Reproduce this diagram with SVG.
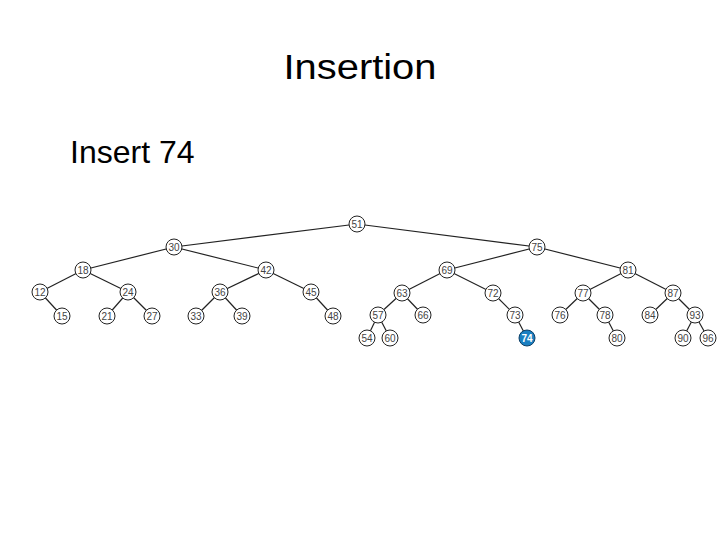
<svg xmlns="http://www.w3.org/2000/svg" width="720" height="540" viewBox="0 0 720 540">
<style>
.n circle{fill:#fff;stroke:#222;stroke-width:1}
.n text{font-family:"Liberation Sans",Arial,sans-serif;font-size:10px;fill:#444;text-anchor:middle;dominant-baseline:central}
#n74 circle{fill:#1a7fc1;stroke:#0d3f66}
#n74 text{fill:#fff;font-weight:bold}
.e line{stroke:#222;stroke-width:1.2}
.t{font-family:"Liberation Sans",Arial,sans-serif;fill:#000}
</style>
<rect width="720" height="540" fill="#fff"/>
<text class="t" x="360" y="79" font-size="35" text-anchor="middle" textLength="153" lengthAdjust="spacingAndGlyphs">Insertion</text>
<text class="t" x="70" y="163" font-size="32">Insert 74</text>
<g class="e" id="edges">
<line x1="357" y1="224" x2="174" y2="247"/>
<line x1="357" y1="224" x2="537" y2="247"/>
<line x1="174" y1="247" x2="83" y2="270"/>
<line x1="174" y1="247" x2="266" y2="270"/>
<line x1="83" y1="270" x2="40" y2="292"/>
<line x1="83" y1="270" x2="128" y2="292"/>
<line x1="266" y1="270" x2="220" y2="292"/>
<line x1="266" y1="270" x2="311" y2="292"/>
<line x1="40" y1="292" x2="62" y2="316"/>
<line x1="128" y1="292" x2="107" y2="316"/>
<line x1="128" y1="292" x2="152" y2="316"/>
<line x1="220" y1="292" x2="196" y2="316"/>
<line x1="220" y1="292" x2="242" y2="316"/>
<line x1="311" y1="292" x2="333" y2="316"/>
<line x1="537" y1="247" x2="447" y2="270"/>
<line x1="537" y1="247" x2="628" y2="270"/>
<line x1="447" y1="270" x2="402" y2="293"/>
<line x1="447" y1="270" x2="493" y2="293"/>
<line x1="628" y1="270" x2="583" y2="293"/>
<line x1="628" y1="270" x2="673" y2="293"/>
<line x1="402" y1="293" x2="378" y2="315"/>
<line x1="402" y1="293" x2="423" y2="315"/>
<line x1="493" y1="293" x2="515" y2="315"/>
<line x1="583" y1="293" x2="560" y2="315"/>
<line x1="583" y1="293" x2="605" y2="315"/>
<line x1="673" y1="293" x2="650" y2="315"/>
<line x1="673" y1="293" x2="695" y2="315"/>
<line x1="378" y1="315" x2="367" y2="338"/>
<line x1="378" y1="315" x2="390" y2="338"/>
<line x1="515" y1="315" x2="527" y2="338"/>
<line x1="605" y1="315" x2="617" y2="338"/>
<line x1="695" y1="315" x2="683" y2="338"/>
<line x1="695" y1="315" x2="708" y2="338"/>
</g>
<g class="n" id="n51"><circle cx="357" cy="224" r="8"/><text x="357" y="224">51</text></g>
<g class="n" id="n30"><circle cx="174" cy="247" r="8"/><text x="174" y="247">30</text></g>
<g class="n" id="n18"><circle cx="83" cy="270" r="8"/><text x="83" y="270">18</text></g>
<g class="n" id="n42"><circle cx="266" cy="270" r="8"/><text x="266" y="270">42</text></g>
<g class="n" id="n12"><circle cx="40" cy="292" r="8"/><text x="40" y="292">12</text></g>
<g class="n" id="n24"><circle cx="128" cy="292" r="8"/><text x="128" y="292">24</text></g>
<g class="n" id="n36"><circle cx="220" cy="292" r="8"/><text x="220" y="292">36</text></g>
<g class="n" id="n45"><circle cx="311" cy="292" r="8"/><text x="311" y="292">45</text></g>
<g class="n" id="n15"><circle cx="62" cy="316" r="8"/><text x="62" y="316">15</text></g>
<g class="n" id="n21"><circle cx="107" cy="316" r="8"/><text x="107" y="316">21</text></g>
<g class="n" id="n27"><circle cx="152" cy="316" r="8"/><text x="152" y="316">27</text></g>
<g class="n" id="n33"><circle cx="196" cy="316" r="8"/><text x="196" y="316">33</text></g>
<g class="n" id="n39"><circle cx="242" cy="316" r="8"/><text x="242" y="316">39</text></g>
<g class="n" id="n48"><circle cx="333" cy="316" r="8"/><text x="333" y="316">48</text></g>
<g class="n" id="n75"><circle cx="537" cy="247" r="8"/><text x="537" y="247">75</text></g>
<g class="n" id="n69"><circle cx="447" cy="270" r="8"/><text x="447" y="270">69</text></g>
<g class="n" id="n81"><circle cx="628" cy="270" r="8"/><text x="628" y="270">81</text></g>
<g class="n" id="n63"><circle cx="402" cy="293" r="8"/><text x="402" y="293">63</text></g>
<g class="n" id="n72"><circle cx="493" cy="293" r="8"/><text x="493" y="293">72</text></g>
<g class="n" id="n77"><circle cx="583" cy="293" r="8"/><text x="583" y="293">77</text></g>
<g class="n" id="n87"><circle cx="673" cy="293" r="8"/><text x="673" y="293">87</text></g>
<g class="n" id="n57"><circle cx="378" cy="315" r="8"/><text x="378" y="315">57</text></g>
<g class="n" id="n66"><circle cx="423" cy="315" r="8"/><text x="423" y="315">66</text></g>
<g class="n" id="n73"><circle cx="515" cy="315" r="8"/><text x="515" y="315">73</text></g>
<g class="n" id="n76"><circle cx="560" cy="315" r="8"/><text x="560" y="315">76</text></g>
<g class="n" id="n78"><circle cx="605" cy="315" r="8"/><text x="605" y="315">78</text></g>
<g class="n" id="n84"><circle cx="650" cy="315" r="8"/><text x="650" y="315">84</text></g>
<g class="n" id="n93"><circle cx="695" cy="315" r="8"/><text x="695" y="315">93</text></g>
<g class="n" id="n54"><circle cx="367" cy="338" r="8"/><text x="367" y="338">54</text></g>
<g class="n" id="n60"><circle cx="390" cy="338" r="8"/><text x="390" y="338">60</text></g>
<g class="n" id="n74"><circle cx="527" cy="338" r="8"/><text x="527" y="338">74</text></g>
<g class="n" id="n80"><circle cx="617" cy="338" r="8"/><text x="617" y="338">80</text></g>
<g class="n" id="n90"><circle cx="683" cy="338" r="8"/><text x="683" y="338">90</text></g>
<g class="n" id="n96"><circle cx="708" cy="338" r="8"/><text x="708" y="338">96</text></g>
</svg>
